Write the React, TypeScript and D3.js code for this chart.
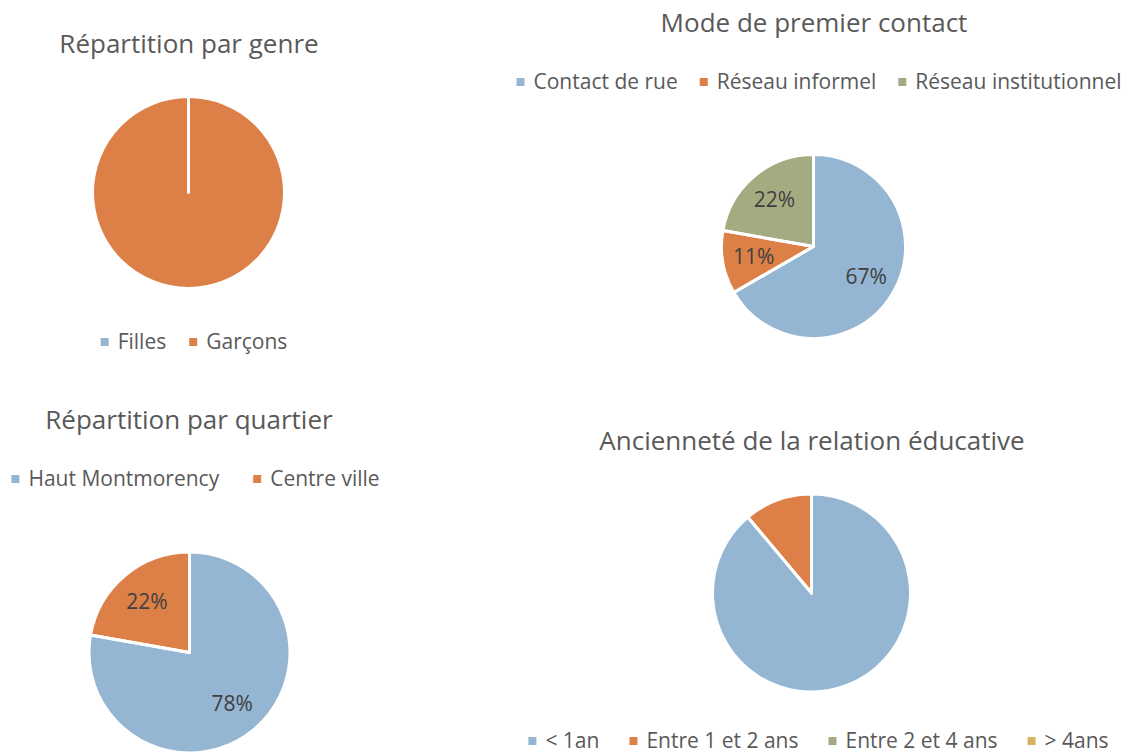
import React, { useEffect, useRef } from 'react';
import * as d3 from 'd3';

// counts per category (9 jeunes)
const genreLabels = ['Filles', 'Garçons'];
const genreValues = [0, 9];

const contactLabels = ['Contact de rue', 'Réseau informel', 'Réseau institutionnel'];
const contactValues = [6, 1, 2];

const quartierLabels = ['Haut Montmorency', 'Centre ville'];
const quartierValues = [7, 2];

const ancienneteLabels = ['< 1an', 'Entre 1 et 2 ans', 'Entre 2 et 4 ans', '> 4ans'];
const ancienneteValues = [8, 1, 0, 0];

const palette = ['#94B6D2', '#DD8047', '#A5AB81', '#D8B25C'];
const font = "'Open Sans', 'Noto Sans', sans-serif";

const charts = [
  {
    title: 'Répartition par genre', labels: genreLabels, values: genreValues,
    cx: 188.5, cy: 192.5, r: 96, titleX: 189, titleY: 53,
    legendX: 194, legendY: 342, gap: 23, showPct: false,
  },
  {
    title: 'Mode de premier contact', labels: contactLabels, values: contactValues,
    cx: 813.5, cy: 246.5, r: 92, titleX: 814, titleY: 32,
    legendX: 819, legendY: 82, gap: 22, showPct: true,
  },
  {
    title: 'Répartition par quartier', labels: quartierLabels, values: quartierValues,
    cx: 189.5, cy: 652.5, r: 100.5, titleX: 189, titleY: 429,
    legendX: 195.5, legendY: 479, gap: 34, showPct: true,
  },
  {
    title: 'Ancienneté de la relation éducative', labels: ancienneteLabels, values: ancienneteValues,
    cx: 811.5, cy: 593, r: 99, titleX: 812, titleY: 450,
    legendX: 818.5, legendY: 741, gap: 30, showPct: false,
  },
];

export default function App() {
  const ref = useRef<SVGSVGElement>(null);

  useEffect(() => {
    const svg = d3.select(ref.current);
    svg.selectAll('*').remove();

    const pie = d3.pie<number>().sort(null).value((d) => d);

    charts.forEach((c) => {
      const g = svg.append('g');
      const total = d3.sum(c.values);
      const arcs = pie(c.values);

      // title
      g.append('text')
        .attr('x', c.titleX)
        .attr('y', c.titleY)
        .attr('text-anchor', 'middle')
        .style('font-family', font)
        .style('font-size', '26px')
        .style('fill', '#595959')
        .text(c.title);

      // slices: fills first, then white borders on top (so empty slices still show their edge)
      const arcGen = d3.arc<d3.PieArcDatum<number>>().innerRadius(0).outerRadius(c.r);
      const pg = g.append('g').attr('transform', `translate(${c.cx},${c.cy})`);
      pg.selectAll('path.fill')
        .data(arcs)
        .enter()
        .append('path')
        .attr('class', 'fill')
        .attr('d', arcGen)
        .style('fill', (_, i) => palette[i]);
      pg.selectAll('path.edge')
        .data(arcs)
        .enter()
        .append('path')
        .attr('class', 'edge')
        .attr('d', arcGen)
        .style('fill', 'none')
        .style('stroke', '#ffffff')
        .style('stroke-width', 3)
        .style('stroke-linejoin', 'round');

      // data labels
      if (c.showPct) {
        const labelArc = d3.arc<d3.PieArcDatum<number>>()
          .innerRadius(c.r * 0.66)
          .outerRadius(c.r * 0.66);
        pg.selectAll('text')
          .data(arcs.filter((a) => a.value > 0))
          .enter()
          .append('text')
          .attr('transform', (d) => `translate(${labelArc.centroid(d)})`)
          .attr('text-anchor', 'middle')
          .attr('dy', '0.35em')
          .style('font-family', font)
          .style('font-size', '21px')
          .style('fill', '#404040')
          .text((d) => `${Math.round((d.value / total) * 100)}%`);
      }

      // legend, centred
      const lg = g.append('g');
      const items = c.labels.map((lab, i) => {
        const it = lg.append('g');
        it.append('rect')
          .attr('x', 0)
          .attr('y', -4)
          .attr('width', 8)
          .attr('height', 8)
          .style('fill', palette[i]);
        const t = it.append('text')
          .attr('x', 17)
          .attr('y', 7)
          .style('font-family', font)
          .style('font-size', '21px')
          .style('fill', '#595959')
          .text(lab);
        const w = 17 + (t.node() as SVGTextElement).getComputedTextLength();
        return { it, w };
      });
      const totalW = d3.sum(items, (d) => d.w) + c.gap * (items.length - 1);
      let x = c.legendX - totalW / 2;
      items.forEach((d) => {
        d.it.attr('transform', `translate(${x},${c.legendY})`);
        x += d.w + c.gap;
      });
    });
  }, []);

  return (
    <svg
      ref={ref}
      width={1124}
      height={754}
      style={{ position: 'absolute', left: 0, top: 0, background: '#fff' }}
    />
  );
}
